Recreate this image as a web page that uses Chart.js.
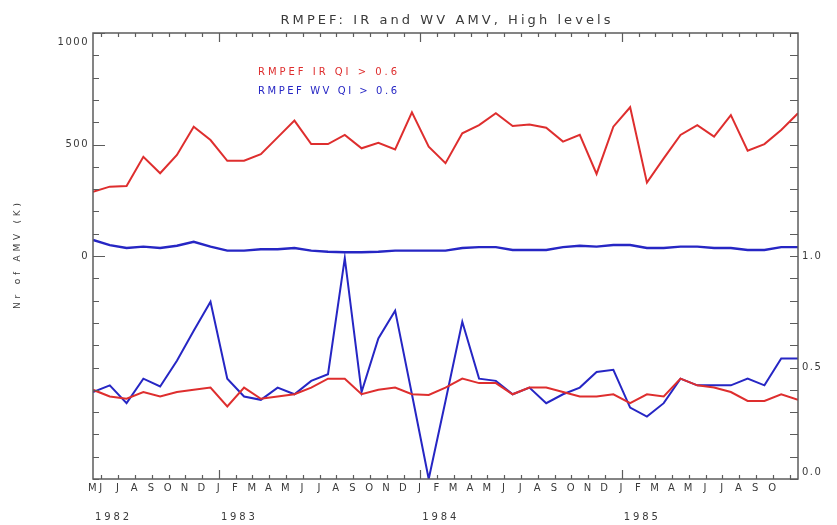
<!DOCTYPE html>
<html><head><meta charset="utf-8">
<script src="https://cdn.jsdelivr.net/npm/chart.js@4/dist/chart.umd.min.js"></script>
<style>html,body{margin:0;padding:0;background:#fff}#wrap{width:837px;height:525px;position:relative}</style>
</head><body><div id="wrap"><canvas id="c" width="837" height="525"></canvas></div>
<script>
// ---- data ----
const titleText = 'RMPEF: IR and WV AMV, High levels';
const yAxisTitle = 'Nr of AMV (K)';
const seriesNames = ['RMPEF IR QI > 0.6', 'RMPEF WV QI > 0.6'];
const months = ['1982-05','1982-06','1982-07','1982-08','1982-09','1982-10','1982-11','1982-12',
  '1983-01','1983-02','1983-03','1983-04','1983-05','1983-06','1983-07','1983-08','1983-09','1983-10','1983-11','1983-12',
  '1984-01','1984-02','1984-03','1984-04','1984-05','1984-06','1984-07','1984-08','1984-09','1984-10','1984-11','1984-12',
  '1985-01','1985-02','1985-03','1985-04','1985-05','1985-06','1985-07','1985-08','1985-09','1985-10','1985-11'];
const irCount = [288,311,314,445,371,453,580,520,427,427,457,532,607,502,502,543,483,508,478,644,
  490,416,550,587,640,583,590,575,513,543,368,580,667,329,438,543,587,535,632,472,502,565,640];
const wvCount = [72,49,36,42,36,46,64,42,24,24,30,30,36,24,19,17,17,19,24,24,
  24,24,36,40,40,27,27,27,40,46,42,49,49,36,36,42,42,36,36,27,27,40,40];
const irRatio = [0.40,0.37,0.36,0.39,0.37,0.39,0.40,0.41,0.325,0.41,0.36,0.37,0.38,0.41,0.45,0.45,0.38,0.40,0.41,0.38,
  0.377,0.41,0.45,0.43,0.43,0.38,0.41,0.41,0.39,0.37,0.37,0.38,0.34,0.38,0.37,0.45,0.42,0.41,0.39,0.35,0.35,0.38,0.355];
const wvRatio = [0.39,0.42,0.34,0.45,0.415,0.53,0.665,0.795,0.45,0.37,0.355,0.41,0.38,0.44,0.47,0.99,0.39,0.63,0.755,0.38,
  0.0,0.35,0.705,0.45,0.44,0.38,0.41,0.34,0.38,0.41,0.48,0.49,0.32,0.28,0.34,0.45,0.42,0.42,0.42,0.45,0.42,0.54,0.54];
const monthTickValues = [0,0.5,1.5,2.5,3.5,4.5,5.5,6.5,7.5,8.5,9.5,10.5,11.5,12.5,13.5,14.5,15.5,16.5,17.5,18.5,19.5,
  20.5,21.5,22.5,23.5,24.5,25.5,26.5,27.5,28.5,29.5,30.5,31.5,32.5,33.5,34.5,35.5,36.5,37.5,38.5,39.5,40.5,41.5];
const monthTickLabels = ['M','J','J','A','S','O','N','D','J','F','M','A','M','J','J','A','S','O','N','D',
  'J','F','M','A','M','J','J','A','S','O','N','D','J','F','M','A','M','J','J','A','S','O',''];
const yearTickValues = [0, 7.5, 19.5, 31.5];
const yearLabels = ['1982','1983','1984','1985'];
const leftTickValues = [0, 500, 1000];
const leftTickLabels = ['0','500',['','1000']];
const rightTickValues = [0, 0.5, 1];
const rightTickLabels = [['0.0',''],'0.5','1.0'];

const RED = '#de2e2e', BLUE = '#2626c4', AXIS = '#5c5c5c', TEXT = '#3a3a3a';
const FONT = 'DejaVu Sans';

function pts(arr){ return arr.map((v,i)=>({x:i,y:v})); }

function spacedText(ctx, text, x, y, target, align){
  ctx.letterSpacing = '0px';
  const n = text.length;
  const w = ctx.measureText(text).width;
  const sp = Math.max(0,(target - w)/(n-1));
  ctx.letterSpacing = sp.toFixed(2) + 'px';
  let sx = x;
  if (align === 'center') sx = x - (w + sp*(n-1))/2;
  ctx.textAlign = 'left';
  ctx.fillText(text, sx, y);
  ctx.letterSpacing = '0px';
}

const decor = {
  id: 'decor',
  beforeDraw(chart){ chart.ctx.letterSpacing = '1.5px'; },
  afterDraw(chart){
    const ctx = chart.ctx, a = chart.chartArea;
    const xs = chart.scales.x, ys = chart.scales.y, y1 = chart.scales.y1;
    ctx.save();
    ctx.letterSpacing = '0px';
    ctx.strokeStyle = AXIS; ctx.lineWidth = 1.5;
    ctx.strokeRect(a.left, a.top, a.right - a.left, a.bottom - a.top);
    ctx.lineWidth = 1.2;
    ctx.beginPath();
    monthTickValues.forEach(v=>{
      if (v === 0) return;
      const px = Math.round(xs.getPixelForValue(v)) + 0.5;
      const major = yearTickValues.includes(v);
      const L = major ? 9 : 4;
      ctx.moveTo(px, a.bottom); ctx.lineTo(px, a.bottom - L);
      ctx.moveTo(px, a.top); ctx.lineTo(px, a.top + L);
    });
    for (let i = -10; i <= 10; i++){
      const v = i*100;
      const py = Math.round(ys.getPixelForValue(v)) + 0.5;
      const major = leftTickValues.includes(v);
      const L = major ? 12 : 6;
      ctx.moveTo(a.left, py); ctx.lineTo(a.left + L, py);
    }
    for (let i = 0; i <= 20; i++){
      const py = Math.round(y1.getPixelForValue(i/10)) + 0.5;
      ctx.moveTo(a.right, py); ctx.lineTo(a.right - 8, py);
    }
    ctx.stroke();

    ctx.fillStyle = TEXT;
    ctx.textBaseline = 'middle';
    ctx.font = '13px "' + FONT + '"';
    spacedText(ctx, titleText, (a.left + a.right)/2, 21, 330, 'center');

    ctx.font = '10px "' + FONT + '"';
    ctx.fillStyle = RED;
    spacedText(ctx, seriesNames[0], 258, 72, 139, 'left');
    ctx.fillStyle = BLUE;
    spacedText(ctx, seriesNames[1], 258, 91, 139, 'left');

    ctx.fillStyle = TEXT;
    yearTickValues.forEach((v,i)=>{
      const px = xs.getPixelForValue(v);
      spacedText(ctx, yearLabels[i], px + 2, 517, 34, 'left');
    });

    ctx.save();
    ctx.translate(18, (a.top + a.bottom)/2);
    ctx.rotate(-Math.PI/2);
    ctx.font = '9px "' + FONT + '"';
    spacedText(ctx, yAxisTitle, 0, 0, 106, 'center');
    ctx.restore();
    ctx.restore();
    ctx.letterSpacing = '0px';
  }
};

new Chart(document.getElementById('c'), {
  type: 'line',
  data: {
    datasets: [
      {label: seriesNames[0], data: pts(irCount), yAxisID: 'y', borderColor: RED, borderWidth: 2},
      {label: seriesNames[1], data: pts(wvCount), yAxisID: 'y', borderColor: BLUE, borderWidth: 2.4},
      {label: seriesNames[0] + ' ratio', data: pts(irRatio), yAxisID: 'y1', borderColor: RED, borderWidth: 2},
      {label: seriesNames[1] + ' ratio', data: pts(wvRatio), yAxisID: 'y1', borderColor: BLUE, borderWidth: 2}
    ]
  },
  options: {
    responsive: false,
    animation: false,
    devicePixelRatio: 1,
    layout: {padding: {top: 33, left: 0, right: 0, bottom: 0}},
    elements: {point: {radius: 0}, line: {tension: 0, fill: false}},
    plugins: {legend: {display: false}, title: {display: false}, tooltip: {enabled: false}},
    scales: {
      x: {
        type: 'linear', min: 0, max: 42,
        grid: {display: false, drawTicks: false}, border: {display: false},
        afterBuildTicks: s => { s.ticks = monthTickValues.map(v=>({value:v})); },
        afterFit: s => { s.height = 46; },
        ticks: {autoSkip: false, maxRotation: 0, minRotation: 0, padding: 3, color: TEXT,
          font: {family: FONT, size: 10},
          callback: (v, i) => monthTickLabels[i]}
      },
      y: {
        position: 'left', min: -1000, max: 1000,
        grid: {display: false, drawTicks: false}, border: {display: false},
        afterBuildTicks: s => { s.ticks = leftTickValues.map(v=>({value:v})); },
        afterFit: s => { s.width = 93; },
        ticks: {padding: 4, color: TEXT, font: {family: FONT, size: 10, lineHeight: 1.8},
          callback: (v, i) => leftTickLabels[i]}
      },
      y1: {
        position: 'right', min: 0, max: 2,
        grid: {display: false, drawTicks: false}, border: {display: false},
        afterBuildTicks: s => { s.ticks = rightTickValues.map(v=>({value:v})); },
        afterFit: s => { s.width = 39; },
        ticks: {padding: 4, color: TEXT, font: {family: FONT, size: 10, lineHeight: 1.3},
          callback: (v, i) => rightTickLabels[i]}
      }
    }
  },
  plugins: [decor]
});
</script>
</body></html>
